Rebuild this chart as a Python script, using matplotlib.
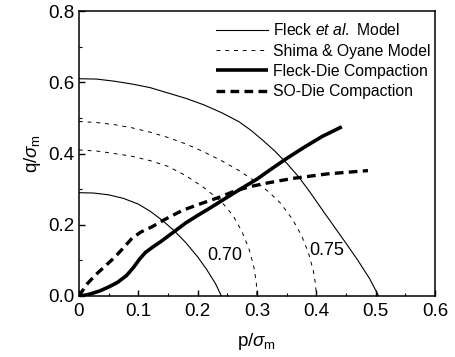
import numpy as np
import matplotlib
matplotlib.use("Agg")
import matplotlib.pyplot as plt

plt.rcParams['font.family'] = ['Liberation Sans', 'DejaVu Sans']
plt.rcParams['mathtext.fontset'] = 'custom'
plt.rcParams['mathtext.rm'] = 'Liberation Sans'
plt.rcParams['mathtext.it'] = 'Liberation Sans:italic'

# Fleck et al. model (thin solid), two yield surfaces
fleck_in_p = [0.0, 0.025, 0.05, 0.075, 0.10, 0.12, 0.14, 0.16, 0.18, 0.20, 0.215, 0.23, 0.24]
fleck_in_q = [0.29, 0.289, 0.284, 0.274, 0.258, 0.238, 0.213, 0.184, 0.15, 0.11, 0.075, 0.035, 0.0]
fleck_out_p = [0.0, 0.03, 0.06, 0.09, 0.12, 0.15, 0.18, 0.21, 0.24, 0.27, 0.29, 0.31,
               0.33, 0.35, 0.37, 0.39, 0.41, 0.43, 0.45, 0.47, 0.49, 0.505]
fleck_out_q = [0.61, 0.609, 0.603, 0.595, 0.585, 0.57, 0.555, 0.537, 0.515, 0.489, 0.465, 0.437,
               0.407, 0.373, 0.335, 0.29, 0.242, 0.195, 0.148, 0.10, 0.048, 0.0]

# Shima & Oyane model (thin dashed)
so_in_p = [0.0, 0.03, 0.06, 0.09, 0.12, 0.15, 0.18, 0.21, 0.24, 0.26, 0.275, 0.287, 0.295, 0.299, 0.30]
so_in_q = [0.41, 0.407, 0.40, 0.392, 0.38, 0.364, 0.338, 0.305, 0.265, 0.225, 0.18, 0.13, 0.08, 0.035, 0.0]
so_out_p = [0.0, 0.03, 0.06, 0.09, 0.12, 0.15, 0.18, 0.21, 0.24, 0.27, 0.30, 0.32,
            0.34, 0.36, 0.375, 0.387, 0.395, 0.399, 0.40]
so_out_q = [0.49, 0.487, 0.481, 0.472, 0.46, 0.445, 0.427, 0.405, 0.38, 0.352, 0.318, 0.292,
            0.26, 0.215, 0.17, 0.12, 0.07, 0.03, 0.0]

# die compaction paths
fdie_p = [0.0, 0.01, 0.02, 0.035, 0.05, 0.065, 0.08, 0.092, 0.102, 0.112, 0.125, 0.14,
          0.16, 0.18, 0.20, 0.22, 0.243, 0.27, 0.30, 0.322, 0.35, 0.38, 0.41, 0.443]
fdie_q = [0.0, 0.002, 0.006, 0.014, 0.025, 0.038, 0.057, 0.08, 0.103, 0.122, 0.138, 0.155,
          0.18, 0.205, 0.226, 0.246, 0.27, 0.298, 0.328, 0.354, 0.386, 0.418, 0.448, 0.475]
sodie_p = [0.0, 0.015, 0.03, 0.045, 0.06, 0.075, 0.09, 0.105, 0.123, 0.145, 0.174, 0.20,
           0.238, 0.26, 0.288, 0.32, 0.36, 0.42, 0.487]
sodie_q = [0.0, 0.036, 0.062, 0.085, 0.108, 0.135, 0.163, 0.18, 0.194, 0.215, 0.24, 0.256,
           0.278, 0.293, 0.307, 0.318, 0.33, 0.343, 0.352]

fig = plt.figure(figsize=(4.56, 3.57), dpi=100)
ax = fig.add_axes([0.173, 0.171, 0.781, 0.798])

ax.plot(fleck_out_p, fleck_out_q, color='black', lw=0.8, label=r'Fleck $et\ al.$ Model')
ax.plot(fleck_in_p, fleck_in_q, color='black', lw=0.8)
ax.plot(so_out_p, so_out_q, color='black', lw=0.7, ls=(0, (4, 5)), label='Shima & Oyane Model')
ax.plot(so_in_p, so_in_q, color='black', lw=0.7, ls=(0, (4, 5)))
ax.plot(fdie_p, fdie_q, color='black', lw=2.6, label='Fleck-Die Compaction', solid_capstyle='butt')
ax.plot(sodie_p, sodie_q, color='black', lw=2.4, ls=(0, (2.6, 1.6)), label='SO-Die Compaction')

ax.text(0.246, 0.115, '0.70', fontsize=13, ha='center', va='center')
ax.text(0.418, 0.129, '0.75', fontsize=13, ha='center', va='center')

ax.set_xlim(0, 0.6)
ax.set_ylim(0, 0.8)
ax.set_xticks([0, 0.1, 0.2, 0.3, 0.4, 0.5, 0.6])
ax.set_xticklabels(['0', '0.1', '0.2', '0.3', '0.4', '0.5', '0.6'])
ax.set_yticks([0, 0.2, 0.4, 0.6, 0.8])
ax.set_yticklabels(['0.0', '0.2', '0.4', '0.6', '0.8'])
ax.set_xticks(np.arange(0, 0.61, 0.05), minor=True)
ax.set_yticks(np.arange(0, 0.81, 0.1), minor=True)
ax.tick_params(which='both', direction='in', top=False, right=False, labelsize=13.5)
ax.tick_params(which='major', length=4.5, width=1.0)
ax.tick_params(which='minor', length=2.5, width=0.8)
ax.tick_params(axis='x', pad=5)
ax.tick_params(axis='y', pad=3)
for s in ax.spines.values():
    s.set_linewidth(1.1)

ax.set_xlabel(r'p/$\sigma_{\rm m}$', fontsize=13.5, labelpad=8)
ax.set_ylabel(r'q/$\sigma_{\rm m}$', fontsize=13.5, labelpad=4)

ax.legend(loc='upper left', bbox_to_anchor=(0.385, 0.96), frameon=False, fontsize=11.3,
          handlelength=3.3, handletextpad=0.35, labelspacing=0.33, borderpad=0,
          borderaxespad=0)

fig.savefig('out.png', dpi=100)
